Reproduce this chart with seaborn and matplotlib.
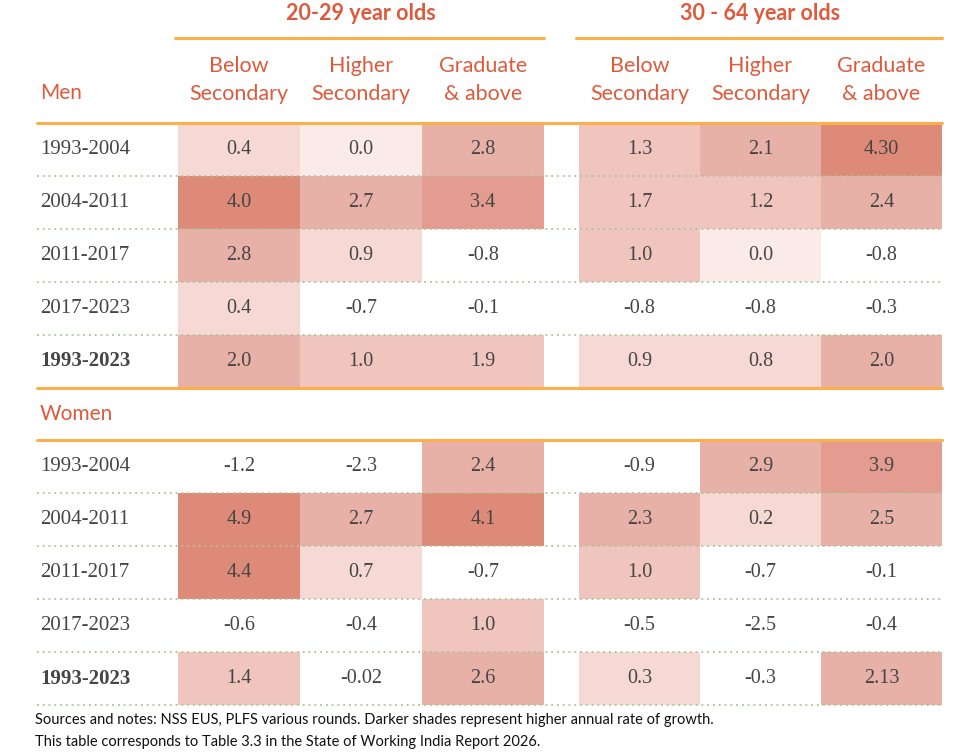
import numpy as np
import pandas as pd
import matplotlib
matplotlib.use("Agg")
import matplotlib.pyplot as plt
import matplotlib.transforms as mtrans
from matplotlib.colors import ListedColormap, BoundaryNorm
from matplotlib.lines import Line2D
import seaborn as sns

# ---------------- data ----------------
periods = ["1993-2004", "2004-2011", "2011-2017", "2017-2023", "1993-2023"]
education = ["Below\nSecondary", "Higher\nSecondary", "Graduate\n& above"]
age_groups = ["20-29 year olds", "30 - 64 year olds"]

men_20_29 = [["0.4", "0.0", "2.8"],
             ["4.0", "2.7", "3.4"],
             ["2.8", "0.9", "-0.8"],
             ["0.4", "-0.7", "-0.1"],
             ["2.0", "1.0", "1.9"]]
men_30_64 = [["1.3", "2.1", "4.30"],
             ["1.7", "1.2", "2.4"],
             ["1.0", "0.0", "-0.8"],
             ["-0.8", "-0.8", "-0.3"],
             ["0.9", "0.8", "2.0"]]
women_20_29 = [["-1.2", "-2.3", "2.4"],
               ["4.9", "2.7", "4.1"],
               ["4.4", "0.7", "-0.7"],
               ["-0.6", "-0.4", "1.0"],
               ["1.4", "-0.02", "2.6"]]
women_30_64 = [["-0.9", "2.9", "3.9"],
               ["2.3", "0.2", "2.5"],
               ["1.0", "-0.7", "-0.1"],
               ["-0.5", "-2.5", "-0.4"],
               ["0.3", "-0.3", "2.13"]]

# ---------------- styles ----------------
W, H = 975, 754
ORANGE_TXT = "#de5a3c"
ORANGE_LINE = "#fbb04c"
DOT = "#a9c59a"
TXT = "#454545"
shade_bounds = [-100, 0, 0.05, 1.0, 2.0, 3.0, 4.0, 100]
shade_colors = ["#ffffff", "#fbebe8", "#f6d9d4", "#efc5be", "#e8b1a8", "#e39c8f", "#de8a79"]
cmap = ListedColormap(shade_colors)
norm = BoundaryNorm(shade_bounds, cmap.N)

sns.set_theme(style="white")
plt.rcParams["font.family"] = ["Liberation Serif", "DejaVu Serif"]

fig = plt.figure(figsize=(W / 100, H / 100), dpi=100)
fig.patch.set_facecolor("white")

def px_ax(x0, x1, y0, y1):
    return fig.add_axes([x0 / W, 1 - y1 / H, (x1 - x0) / W, (y1 - y0) / H])

def build(men, women):
    rows = men + [[None] * 3] + women
    labels = [[("" if v is None else v) for v in r] for r in rows]
    vals = np.array([[np.nan if v is None else float(v) for v in r] for r in rows])
    return pd.DataFrame(vals, index=range(len(rows)), columns=education), np.array(labels)

TOP, BOT = 123, 705
axes = []
for (x0, x1), men, women in [((178, 544), men_20_29, women_20_29),
                             ((579, 942), men_30_64, women_30_64)]:
    ax = px_ax(x0, x1, TOP, BOT)
    df, lab = build(men, women)
    sns.heatmap(df, ax=ax, cmap=cmap, norm=norm, cbar=False, annot=lab, fmt="",
                linewidths=0, annot_kws={"fontsize": 14.5, "color": TXT,
                                         "family": ["Liberation Serif"]})
    ax.set_xticks([]); ax.set_yticks([])
    ax.set_xlabel(""); ax.set_ylabel("")
    for s in ax.spines.values():
        s.set_visible(False)
    axes.append(ax)

ax1, ax2 = axes
tr_fig_data = mtrans.blended_transform_factory(fig.transFigure, ax1.transData)

LX0, LX1 = 37 / W, 942 / W
n_rows = 11
# horizontal rules
for y in range(n_rows + 1):
    if y in (0, 5, 6):
        fig.add_artist(Line2D([LX0, LX1], [y, y], transform=tr_fig_data,
                              color=ORANGE_LINE, lw=2.2, zorder=5))
    else:
        fig.add_artist(Line2D([LX0, LX1], [y, y], transform=tr_fig_data,
                              color=DOT, lw=1.3, ls=(0, (1, 2.2)), zorder=5))

# row labels
for i, p in enumerate(periods):
    for base in (0, 6):
        fig.text(40 / W, base + i + 0.5, p, transform=tr_fig_data, ha="left",
                 va="center", fontsize=15, color=TXT,
                 fontweight="bold" if i == 4 else "normal",
                 family=["Liberation Serif"])

fig.text(40 / W, 5.5, "Women", transform=tr_fig_data, ha="left", va="center",
         fontsize=15, color=ORANGE_TXT, family=["Lato"])
fig.text(40 / W, 1 - 93 / H, "Men", ha="left", va="center", fontsize=15,
         color=ORANGE_TXT, family=["Lato"])

# column headers & group titles
for ax, title in zip(axes, age_groups):
    tr = mtrans.blended_transform_factory(ax.transData, fig.transFigure)
    for j, e in enumerate(education):
        ax.text(j + 0.5, 1 - 80 / H, e, transform=tr, ha="center", va="center",
                fontsize=15.5, color=ORANGE_TXT, family=["Lato"], linespacing=1.5)
    ax.text(1.5, 1 - 14 / H, title, transform=tr, ha="center", va="center",
            fontsize=15.5, fontweight="bold", color=ORANGE_TXT, family=["Lato"])
    pos = ax.get_position()
    fig.add_artist(Line2D([pos.x0 - 3 / W, pos.x1], [1 - 38 / H, 1 - 38 / H],
                          transform=fig.transFigure, color=ORANGE_LINE, lw=2.2))

# footer
fig.text(35 / W, 1 - 720 / H,
         "Sources and notes: NSS EUS, PLFS various rounds. Darker shades represent higher annual rate of growth.",
         ha="left", va="center", fontsize=10.5, color="#111111", family=["Lato"])
fig.text(35 / W, 1 - 742 / H,
         "This table corresponds to Table 3.3 in the State of Working India Report 2026.",
         ha="left", va="center", fontsize=10.5, color="#111111", family=["Lato"])

fig.savefig("out.png", dpi=100, facecolor="white")
